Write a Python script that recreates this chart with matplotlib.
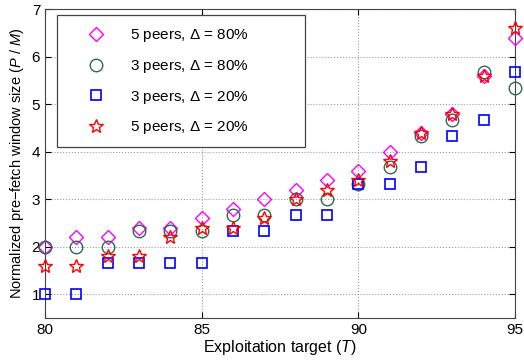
import matplotlib.pyplot as plt
from matplotlib.patches import Rectangle

plt.rcParams['font.family'] = ['Liberation Sans', 'DejaVu Sans']
plt.rcParams['mathtext.fontset'] = 'custom'
plt.rcParams['mathtext.it'] = 'Liberation Sans:italic'
plt.rcParams['mathtext.rm'] = 'Liberation Sans'

# Donnees
T = [80, 81, 82, 83, 84, 85, 86, 87, 88, 89, 90, 91, 92, 93, 94, 95]
p5_d80 = [2.0, 2.2, 2.2, 2.4, 2.4, 2.6, 2.8, 3.0, 3.2, 3.4, 3.6, 4.0, 4.4, 4.8, 5.6, 6.4]
p3_d80 = [2.0, 2.0, 2.0, 2.33, 2.33, 2.33, 2.67, 2.67, 3.0, 3.0, 3.33, 3.67, 4.33, 4.67, 5.67, 5.33]
p3_d20 = [1.0, 1.0, 1.67, 1.67, 1.67, 1.67, 2.33, 2.33, 2.67, 2.67, 3.33, 3.33, 3.67, 4.33, 4.67, 5.67]
p5_d20 = [1.6, 1.6, 1.8, 1.8, 2.2, 2.4, 2.4, 2.6, 3.0, 3.2, 3.4, 3.8, 4.4, 4.8, 5.6, 6.6]

fig = plt.figure(figsize=(5.24, 3.62), dpi=100)
ax = fig.add_axes([0.086, 0.121, 0.897, 0.854])

ms = 9
ax.plot(T, p5_d80, 'D', ms=ms * 0.8, mfc='none', mec='#ff00ff', mew=1.0,
        label=r'5 peers, $\Delta$ = 80%', clip_on=False, zorder=3)
ax.plot(T, p3_d80, 'o', ms=ms, mfc='none', mec='#2e6b4a', mew=1.0,
        label=r'3 peers, $\Delta$ = 80%', clip_on=False, zorder=3)
ax.plot(T, p3_d20, 's', ms=ms * 0.85, mfc='none', mec='#0000ff', mew=1.2,
        label=r'3 peers, $\Delta$ = 20%', clip_on=False, zorder=3)
ax.plot(T, p5_d20, '*', ms=ms * 1.2, mfc='none', mec='#ff0000', mew=1.0,
        label=r'5 peers, $\Delta$ = 20%', clip_on=False, zorder=4)

ax.set_xlim(80, 95)
ax.set_ylim(0.5, 7)
ax.set_xticks([80, 85, 90, 95])
ax.set_yticks([1, 2, 3, 4, 5, 6, 7])
ax.tick_params(direction='in', labelsize=11, top=True, right=True, length=4)
ax.grid(True, linestyle=':', color='#999999', linewidth=0.8)
for s in ax.spines.values():
    s.set_color('#444444')

ax.set_xlabel(r'Exploitation target ($T$)', fontsize=11.5, labelpad=1)
ax.set_ylabel(r'Normalized pre$-$fetch window size ($P$ / $M$)', fontsize=10.5, labelpad=4)

# cadre de la legende, plus large que le texte comme dans l'original
ax.add_patch(Rectangle((0.0255, 0.553), 0.528, 0.428, transform=ax.transAxes,
                       facecolor='white', edgecolor='#444444', linewidth=0.9,
                       zorder=4.5))
leg = ax.legend(loc='upper left', bbox_to_anchor=(0.0255, 0.981),
                borderaxespad=0, fontsize=11, frameon=False, borderpad=0.8,
                labelspacing=0.9, handlelength=3.5, handletextpad=0.45,
                numpoints=1)

plt.savefig('out.png', dpi=100)
